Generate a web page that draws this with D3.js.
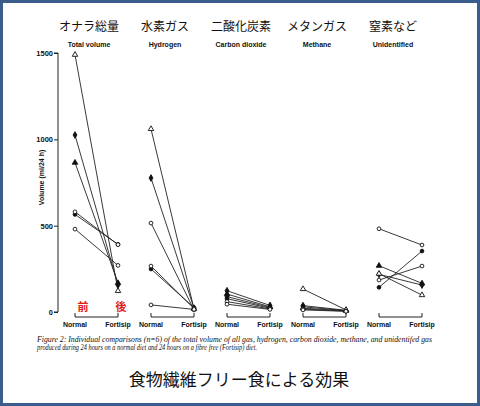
<!DOCTYPE html>
<html>
<head>
<meta charset="utf-8">
<script src="https://cdn.jsdelivr.net/npm/d3@7"></script>
<style>
  html, body { margin: 0; padding: 0; background: #fff; }
  svg { display: block; }
  .jp { font-family: "Noto Sans CJK JP", sans-serif; }
  .en { font-family: "Liberation Sans", Arial, sans-serif; font-weight: bold; }
</style>
</head>
<body>
<div id="chart"></div>
<script>
// --- data ---
const panels = ["total", "h2", "co2", "ch4", "other"];
const titlesJp = ["オナラ総量", "水素ガス", "二酸化炭素", "メタンガス", "窒素など"];
const titlesEn = ["Total volume", "Hydrogen", "Carbon dioxide", "Methane", "Unidentified"];
const diets = ["Normal", "Fortisip"];
const yTicks = [0, 500, 1000, 1500];

// one entry per subject (n=6) in each panel
const normalVals = [
  [1490, 1025, 865, 580, 565, 480],
  [1060, 776, 515, 266, 249, 41],
  [123, 104, 89, 77, 60, 45],
  [133, 37, 30, 22, 17, 12],
  [482, 268, 222, 218, 185, 143]
];
const fortisipVals = [
  [122, 156, 168, 390, 392, 270],
  [18, 22, 12, 20, 25, 15],
  [38, 30, 26, 22, 18, 15],
  [12, 10, 8, 7, 5, 4],
  [388, 166, 98, 156, 266, 353]
];
// marker per subject: to = open triangle, ft = filled triangle, fd = filled diamond, oc/fc = open/filled circle
const markers = [
  ["to", "fd", "ft", "oc", "fc", "oc"],
  ["to", "fd", "oc", "oc", "fc", "oc"],
  ["fd", "ft", "fc", "fc", "oc", "oc"],
  ["to", "fd", "fc", "ft", "oc", "oc"],
  ["oc", "ft", "to", "fd", "oc", "fc"]
];

const W = 480, H = 406;
const svg = d3.select("#chart").append("svg").attr("width", W).attr("height", H);

// frame
svg.append("rect").attr("x", 1.5).attr("y", 1.5).attr("width", W - 3).attr("height", H - 3)
  .attr("fill", "#fff").attr("stroke", "#3b5d8c").attr("stroke-width", 3);

const y = d3.scaleLinear().domain([0, 1500]).range([312, 53]);
const xp = d3.scaleBand().domain(panels).range([75, 455]).padding(0);
const xd = d3.scalePoint().domain(diets).range([0, 43]);

// y axis
const yAxis = svg.append("g").attr("transform", "translate(58,0)")
  .call(d3.axisLeft(y).tickValues(yTicks).tickSize(4).tickPadding(1).tickFormat(d3.format("d")));
yAxis.select(".domain").attr("stroke", "#222").attr("d", `M-4,${y(1500)}H0V${y(0)}H-4`);
yAxis.selectAll(".tick line").attr("stroke", "#222");
yAxis.selectAll("text").attr("class", "en").attr("font-size", 7.5).attr("fill", "#111");

svg.append("text").attr("class", "en")
  .attr("transform", `translate(44,${(y(1500) + y(0)) / 2 - 5}) rotate(-90)`)
  .attr("text-anchor", "middle").attr("font-size", 7)
  .attr("fill", "#111").text("Volume (ml/24 h)");

function drawMarker(g, type, cx, cy) {
  const sym = type === "to" || type === "ft" ? d3.symbolTriangle
    : type === "fd" ? d3.symbolDiamond : d3.symbolCircle;
  const filled = type[0] === "f";
  g.append("path")
    .attr("d", d3.symbol().type(sym).size(sym === d3.symbolCircle ? 11 : 13)())
    .attr("transform", `translate(${cx},${cy})`)
    .attr("fill", filled ? "#111" : "#fff")
    .attr("stroke", "#111").attr("stroke-width", 0.9);
}

panels.forEach((p, i) => {
  const g = svg.append("g").attr("transform", `translate(${xp(p)},0)`);

  g.append("text").attr("class", "jp").attr("x", 14).attr("y", 31)
    .attr("text-anchor", "middle").attr("font-size", 12).attr("fill", "#111")
    .text(titlesJp[i]);
  g.append("text").attr("class", "en").attr("x", 14).attr("y", 47)
    .attr("text-anchor", "middle").attr("font-size", 7).attr("fill", "#111")
    .text(titlesEn[i]);

  // bracket
  g.append("path")
    .attr("d", `M${xd("Normal")},313V317H${xd("Fortisip")}V313`)
    .attr("fill", "none").attr("stroke", "#222").attr("stroke-width", 1);
  diets.forEach(d => {
    g.append("text").attr("class", "en").attr("x", xd(d)).attr("y", 327)
      .attr("text-anchor", "middle").attr("font-size", 7).attr("fill", "#111")
      .text(d);
  });

  // subject lines
  normalVals[i].forEach((v, k) => {
    g.append("line")
      .attr("x1", xd("Normal")).attr("y1", y(v))
      .attr("x2", xd("Fortisip")).attr("y2", y(fortisipVals[i][k]))
      .attr("stroke", "#222").attr("stroke-width", 0.9);
  });
  // filled markers first, open ones on top
  [true, false].forEach(pass => {
    normalVals[i].forEach((v, k) => {
      if ((markers[i][k][0] === "f") !== pass) return;
      drawMarker(g, markers[i][k], xd("Normal"), y(v));
      drawMarker(g, markers[i][k], xd("Fortisip"), y(fortisipVals[i][k]));
    });
  });
});

// red before / after marks
svg.append("text").attr("class", "jp").attr("x", xp("total") + xd("Normal") + 8).attr("y", 311)
  .attr("text-anchor", "middle").attr("font-size", 11).attr("font-weight", "bold")
  .attr("fill", "#e0201b").text("前");
svg.append("text").attr("class", "jp").attr("x", xp("total") + xd("Fortisip") + 3).attr("y", 311)
  .attr("text-anchor", "middle").attr("font-size", 11).attr("font-weight", "bold")
  .attr("fill", "#e0201b").text("後");

// caption
const cap = svg.append("g").attr("font-family", "'Liberation Serif', 'Times New Roman', serif")
  .attr("font-style", "italic").attr("font-size", 7.4).attr("fill", "#111");
cap.append("text").attr("x", 37).attr("y", 342)
  .attr("textLength", 395).attr("lengthAdjust", "spacingAndGlyphs")
  .text("Figure 2: Individual comparisons (n=6) of the total volume of all gas, hydrogen, carbon dioxide, methane, and unidentifed gas");
cap.append("text").attr("x", 37).attr("y", 350)
  .attr("textLength", 220).attr("lengthAdjust", "spacingAndGlyphs")
  .text("produced during 24 hours on a normal diet and 24 hours on a fibre free (Fortisip) diet.");

svg.append("text").attr("class", "jp").attr("x", 239).attr("y", 386)
  .attr("text-anchor", "middle").attr("font-size", 17).attr("fill", "#111")
  .text("食物繊維フリー食による効果");
</script>
</body>
</html>
